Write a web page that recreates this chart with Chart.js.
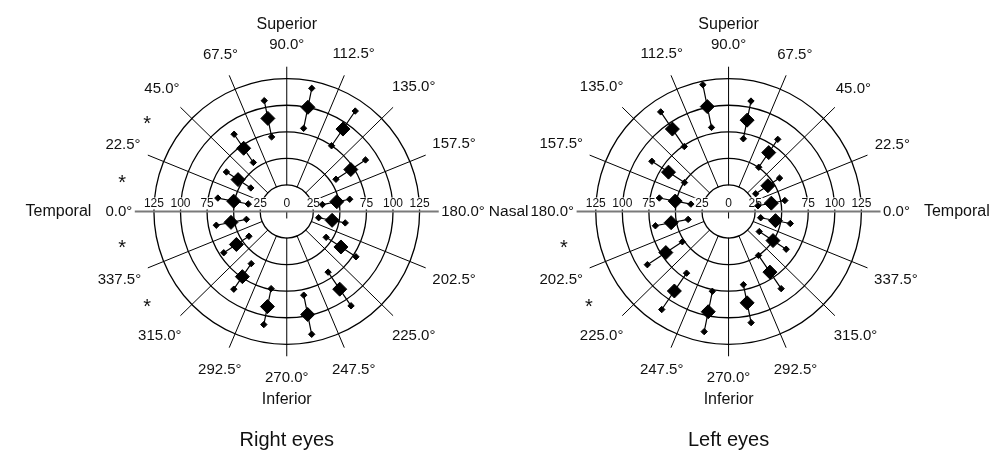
<!DOCTYPE html>
<html>
<head>
<meta charset="utf-8">
<script src="https://cdn.jsdelivr.net/npm/chart.js@4.4.1/dist/chart.umd.min.js"></script>
<style>
  html, body { margin: 0; padding: 0; background: #fff; }
  #wrap { position: relative; width: 999px; height: 450px; }
  #wrap canvas { position: absolute; left: 0; top: 0; }
</style>
</head>
<body>
<div id="wrap">
  <canvas id="rightEyes" width="999" height="450"></canvas>
  <canvas id="leftEyes" width="999" height="450"></canvas>
</div>
<script>
const sectors = [11.25, 33.75, 56.25, 78.75, 101.25, 123.75, 146.25, 168.75,
                 191.25, 213.75, 236.25, 258.75, 281.25, 303.75, 326.25, 348.75];

const rightLow  = [36.9, 40.7, 56.6, 73.0, 81.4, 75.9, 55.7, 34.2, 30.6, 44.6, 70.0, 81.9, 75.5, 60.2, 42.8, 38.7];
const rightMean = [50.9, 55.1, 73.0, 91.1, 102.0, 95.2, 72.5, 48.0, 43.5, 61.3, 89.7, 100.8, 93.1, 75.2, 57.0, 53.5];
const rightHigh = [66.1, 68.3, 89.2, 108.5, 120.6, 116.0, 89.1, 60.4, 56.1, 78.3, 108.9, 120.2, 110.7, 89.7, 71.3, 67.6];

const leftLow  = [28.2, 30.7, 51.1, 71.2, 82.3, 75.0, 49.9, 36.2, 38.8, 52.3, 71.2, 78.1, 71.6, 50.7, 34.7, 30.8];
const leftMean = [41.0, 44.5, 68.0, 89.4, 102.7, 95.2, 68.0, 51.2, 55.1, 71.0, 91.8, 98.1, 89.4, 70.0, 50.3, 45.0];
const leftHigh = [54.0, 57.7, 83.3, 108.1, 124.1, 115.0, 86.8, 66.4, 70.2, 91.9, 113.2, 117.6, 108.8, 89.1, 65.2, 59.2];

const rightStars = [11.25, 33.75, 326.25, 348.75];
const leftStars  = [191.25, 213.75];

const gridRadii = [25, 50, 75, 100, 125];
const tickValues = [0, 25, 75, 100, 125];
const angleTicks = [0, 22.5, 45, 67.5, 90, 112.5, 135, 157.5, 180, 202.5, 225, 247.5, 270, 292.5, 315, 337.5];

const W = 999, H = 450, K = 1.08;   // px per unit
const FONT = "'Liberation Sans', Arial, sans-serif";
const rad = a => a * Math.PI / 180;

function polar(vals) {
  return sectors.map((a, i) => ({ x: vals[i] * Math.cos(rad(a)), y: vals[i] * Math.sin(rad(a)) }));
}

function barSegments(lo, hi) {
  const out = [];
  sectors.forEach((a, i) => {
    out.push({ x: lo[i] * Math.cos(rad(a)), y: lo[i] * Math.sin(rad(a)) });
    out.push({ x: hi[i] * Math.cos(rad(a)), y: hi[i] * Math.sin(rad(a)) });
    out.push({ x: null, y: null });
  });
  return out;
}

const polarPlot = {
  id: 'polarPlot',
  beforeDatasetsDraw(chart, args, o) {
    const { ctx, scales: { x, y } } = chart;
    const cx = x.getPixelForValue(0), cy = y.getPixelForValue(0);
    const pt = (r, a) => [x.getPixelForValue(r * Math.cos(rad(a))), y.getPixelForValue(r * Math.sin(rad(a)))];
    ctx.save();
    ctx.strokeStyle = '#000';
    ctx.lineWidth = 1.3;
    gridRadii.forEach(r => {
      ctx.beginPath();
      ctx.arc(cx, cy, Math.abs(x.getPixelForValue(r) - cx), 0, Math.PI * 2);
      ctx.stroke();
    });
    ctx.lineWidth = 1;
    angleTicks.forEach(a => {
      if (a % 180 === 0) return;
      const p1 = pt(25, a), p2 = pt(a % 90 === 0 ? 139 : 141.5, a);
      ctx.beginPath(); ctx.moveTo(p1[0], p1[1]); ctx.lineTo(p2[0], p2[1]); ctx.stroke();
    });
    // centre tick
    ctx.beginPath(); ctx.moveTo(cx, cy); ctx.lineTo(cx, cy + 7); ctx.stroke();
    // horizontal axis
    ctx.strokeStyle = '#7a7a7a';
    ctx.lineWidth = 2;
    const a0 = pt(143, 0), a1 = pt(143, 180);
    ctx.beginPath(); ctx.moveTo(a0[0], cy); ctx.lineTo(a1[0], cy); ctx.stroke();
    // ring values
    ctx.font = '12px ' + FONT;
    ctx.textAlign = 'center';
    ctx.textBaseline = 'alphabetic';
    tickValues.forEach(v => {
      const sides = v === 0 ? [0] : [v, -v];
      sides.forEach(s => {
        const tx = x.getPixelForValue(s);
        const w = ctx.measureText(String(v)).width;
        ctx.fillStyle = '#fff';
        ctx.fillRect(tx - w / 2 - 1, cy - 14, w + 2, 12);
        ctx.fillStyle = '#111';
        ctx.fillText(String(v), tx, cy - 4);
      });
    });
    ctx.restore();
  },
  afterDatasetsDraw(chart, args, o) {
    const { ctx, scales: { x, y } } = chart;
    const cx = x.getPixelForValue(0), cy = y.getPixelForValue(0);
    ctx.save();
    ctx.fillStyle = '#111';
    ctx.textAlign = 'center';
    ctx.textBaseline = 'middle';
    ctx.font = '15px ' + FONT;
    const labelR = Math.abs(x.getPixelForValue(149) - cx);
    const sideR = Math.abs(x.getPixelForValue(145.4) - cx);
    const spots = {};
    angleTicks.forEach(a => {
      const px = x.getPixelForValue(Math.cos(rad(a))) - cx;
      const py = y.getPixelForValue(Math.sin(rad(a))) - cy;
      const len = Math.hypot(px, py), ux = px / len, uy = py / len;
      const txt = a.toFixed(1) + '\u00B0';
      const w = ctx.measureText(txt).width, h = 11;
      let R = (a % 180 === 0 ? sideR : labelR) + w / 2 * Math.abs(ux) + h / 2 * Math.abs(uy);
      if (a % 180 === 90) R += 2.5;
      const lx = cx + ux * R, ly = cy + uy * R;
      ctx.fillText(txt, lx, ly);
      spots[a] = { x: lx, y: ly, w };
    });
    ctx.font = '16px ' + FONT;
    ctx.fillText('Superior', spots[90].x, spots[90].y - 21);
    ctx.fillText('Inferior', spots[270].x, spots[270].y + 22);
    const tw = ctx.measureText('Temporal').width;
    const side = spots[0];
    const dir = Math.sign(side.x - cx);
    ctx.fillText('Temporal', side.x + dir * (side.w / 2 + 14 + tw / 2), side.y);
    if (o.nasal) {
      ctx.font = '15.5px ' + FONT;
      const n = spots[180], nw = ctx.measureText('Nasal').width;
      const nd = Math.sign(n.x - cx);
      ctx.fillText('Nasal', n.x + nd * (n.w / 2 + 4 + nw / 2), n.y);
    }
    // significance marks
    ctx.font = '20px ' + FONT;
    ctx.textBaseline = 'alphabetic';
    const m = ctx.measureText('*');
    const off = (m.actualBoundingBoxAscent - m.actualBoundingBoxDescent) / 2;
    o.stars.forEach(a => {
      const sx = x.getPixelForValue(158 * Math.cos(rad(a)));
      const sy = y.getPixelForValue(158 * Math.sin(rad(a)));
      ctx.fillText('*', sx, sy + off);
    });
    ctx.font = '20px ' + FONT;
    ctx.textBaseline = 'middle';
    ctx.fillText(o.caption, cx, cy + 229);
    ctx.restore();
  }
};

function makeChart(id, low, mean, high, cxPx, mirror, opts) {
  const cyPx = 211;
  const xMin = mirror ? -(W - cxPx) / K : -cxPx / K;
  const xMax = mirror ? cxPx / K : (W - cxPx) / K;
  return new Chart(document.getElementById(id), {
    type: 'scatter',
    data: {
      datasets: [
        {
          data: barSegments(low, high),
          showLine: true,
          spanGaps: false,
          borderColor: '#000',
          borderWidth: 1.2,
          pointRadius: 0
        },
        {
          data: polar(low).concat(polar(high)),
          pointStyle: 'rectRot',
          pointRadius: 3.2,
          backgroundColor: '#000',
          borderColor: '#000',
          borderWidth: 1
        },
        {
          data: polar(mean),
          pointStyle: 'rectRot',
          pointRadius: 7,
          backgroundColor: '#000',
          borderColor: '#000',
          borderWidth: 1
        }
      ]
    },
    options: {
      responsive: false,
      animation: false,
      events: [],
      layout: { padding: 0 },
      scales: {
        x: { type: 'linear', display: false, bounds: 'data', min: xMin, max: xMax, reverse: mirror },
        y: { type: 'linear', display: false, bounds: 'data', min: -(H - cyPx) / K, max: cyPx / K }
      },
      plugins: {
        legend: { display: false },
        tooltip: { enabled: false },
        polarPlot: opts
      }
    },
    plugins: [polarPlot]
  });
}

makeChart('rightEyes', rightLow, rightMean, rightHigh, 283.3, true,
  { caption: 'Right eyes', stars: rightStars, nasal: true });
makeChart('leftEyes', leftLow, leftMean, leftHigh, 732.3, false,
  { caption: 'Left eyes', stars: leftStars, nasal: false });
</script>
</body>
</html>
